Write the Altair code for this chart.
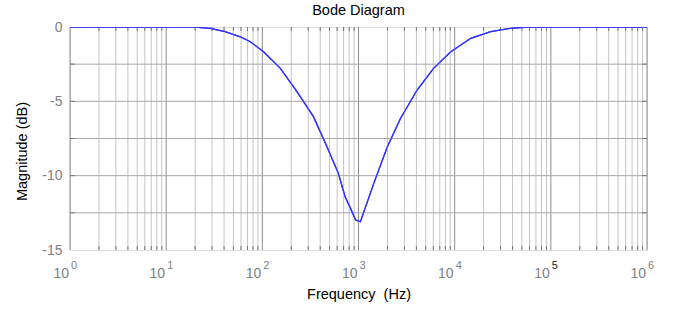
import altair as alt
import pandas as pd

# Curve samples
freq = [1, 20, 28.7, 41, 61, 75, 103, 154, 229, 340, 470, 617, 724, 826, 933, 1047,
        1445, 1995, 2740, 4070, 6030, 9120, 14700, 23700, 38000, 57500, 1000000]
mag = [0, 0, -0.09, -0.31, -0.70, -0.99, -1.66, -2.78, -4.35, -6.03, -8.05, -9.84, -11.4, -12.2, -12.98, -13.1,
       -10.5, -8.05, -6.14, -4.24, -2.78, -1.66, -0.76, -0.31, -0.09, 0, 0]

decades = [0, 1, 2, 3, 4, 5, 6]
mults = [1, 2, 3, 4, 5, 6, 7, 8, 9]
y_grid = [-2.5, -5, -7.5, -10, -12.5]
y_labels = [0, -5, -10, -15]

W, H = 577, 223
FONT = "Liberation Sans"

curve = pd.DataFrame({"f": freq, "m": mag})
minor = pd.DataFrame({"f": [m * 10 ** k for k in decades[:-1] for m in mults[1:]]})
major = pd.DataFrame({"f": [10 ** k for k in decades]})
ygrid = pd.DataFrame({"y": y_grid})
labels = pd.DataFrame({"f": [10 ** k for k in decades], "e": [str(k) for k in decades]})

xs = alt.Scale(type="log", domain=[1, 1e6], nice=False)
ys = alt.Scale(domain=[-15, 0], nice=False)

xaxis = alt.Axis(title="Frequency\u00a0 (Hz)", labels=False, ticks=False, domain=False, grid=False,
                 titleFont=FONT, titleFontSize=14.5, titleFontWeight="normal",
                 titleColor="#000000", titlePadding=37)
yaxis = alt.Axis(title="Magnitude (dB)", values=y_labels, ticks=False, domain=False, grid=False,
                 labelExpr="'' + datum.value",
                 labelFont=FONT, labelFontSize=14, labelColor="#7f7f7f", labelPadding=8,
                 titleFont=FONT, titleFontSize=14.5, titleFontWeight="normal",
                 titleColor="#000000", titlePadding=12, titleY=124)


def X(field="f:Q"):
    return alt.X(field, scale=xs, axis=xaxis)


def Y(field):
    return alt.Y(field, scale=ys, axis=yaxis)


line = alt.Chart(curve).mark_line(color="#3333ff", strokeWidth=1.3, clip=True).encode(
    x=X(), y=Y("m:Q"))

grid_minor = alt.Chart(minor).mark_rule(color="#c4c4c4", strokeWidth=1).encode(x=X())
grid_major = alt.Chart(major).mark_rule(color="#8c8c8c", strokeWidth=1).encode(x=X())
grid_h = alt.Chart(ygrid).mark_rule(color="#a8a8a8", strokeWidth=1).encode(y=Y("y:Q"))

ticks_top = alt.Chart(minor).mark_rule(color="#777777", strokeWidth=1).encode(
    x=X(), y=alt.value(0), y2=alt.value(4))
ticks_bot = alt.Chart(minor).mark_rule(color="#777777", strokeWidth=1).encode(
    x=X(), y=alt.value(H - 4), y2=alt.value(H))
ticks_left = alt.Chart(ygrid).mark_rule(color="#777777", strokeWidth=1).encode(
    y=Y("y:Q"), x=alt.value(0), x2=alt.value(5))
ticks_right = alt.Chart(ygrid).mark_rule(color="#777777", strokeWidth=1).encode(
    y=Y("y:Q"), x=alt.value(W - 5), x2=alt.value(W))

lab10 = alt.Chart(labels).mark_text(font=FONT, fontSize=14, color="#7f7f7f", align="right",
                                     baseline="alphabetic", dx=-1).encode(
    x=X(), y=alt.value(H + 28), text=alt.value("10"))
labexp = alt.Chart(labels).mark_text(font=FONT, fontSize=11, align="left",
                                      baseline="alphabetic", dx=1).encode(
    x=X(), y=alt.value(H + 19), text="e:N",
    color=alt.condition("datum.e == '5'", alt.value("#222222"), alt.value("#7f7f7f")))

chart = alt.layer(line, grid_minor, grid_major, grid_h, ticks_top, ticks_bot, ticks_left,
                  ticks_right, lab10, labexp, line).properties(
    width=W, height=H,
    title=alt.TitleParams("Bode Diagram", font=FONT, fontSize=14.5, fontWeight="normal",
                          color="#000000", offset=2, anchor="middle"),
    padding={"left": 70, "top": 27, "right": 49, "bottom": 64},
    autosize=alt.AutoSizeParams(type="none"),
).configure_view(stroke="#555555", strokeWidth=1.2).configure(background="white")

chart.save("out.html", embed_options={"renderer": "svg", "actions": False})
